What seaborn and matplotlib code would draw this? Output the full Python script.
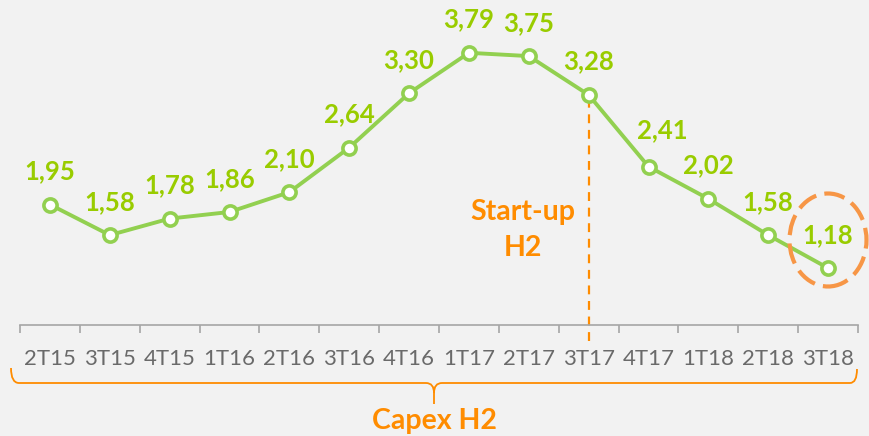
import matplotlib
matplotlib.use("Agg")
import matplotlib.pyplot as plt
import seaborn as sns
import numpy as np
import pandas as pd
from matplotlib.patches import Ellipse, PathPatch
from matplotlib.path import Path

quarters = ["2T15", "3T15", "4T15", "1T16", "2T16", "3T16", "4T16",
            "1T17", "2T17", "3T17", "4T17", "1T18", "2T18", "3T18"]
values = [1.95, 1.58, 1.78, 1.86, 2.10, 2.64, 3.30,
          3.79, 3.75, 3.28, 2.41, 2.02, 1.58, 1.18]
labels = ["1,95", "1,58", "1,78", "1,86", "2,10", "2,64", "3,30",
          "3,79", "3,75", "3,28", "2,41", "2,02", "1,58", "1,18"]
startup_idx = 9

BG = "#F2F2F2"
LINE = "#92D050"
LABEL = "#99CC00"
ORANGE = "#FF8C00"
CIRCLE = "#F79646"
AXIS = "#A6A6A6"
TICKTXT = "#6A6A6A"

sns.set_theme(style="white")
plt.rcParams["font.family"] = ["Lato", "DejaVu Sans"]

W, H = 869, 436
fig = plt.figure(figsize=(W / 100, H / 100), dpi=100, facecolor=BG)
ax = fig.add_axes([20 / W, 1 - 325 / H, 838 / W, 325 / H])
ax.set_facecolor(BG)

df = pd.DataFrame({"pos": np.arange(len(quarters)), "value": values})

# dashed start-up line
ax.plot([startup_idx, startup_idx], [0.3, values[startup_idx]],
        color=ORANGE, lw=1.6, ls=(0, (4, 3)), zorder=1, clip_on=False)

sns.lineplot(data=df, x="pos", y="value", ax=ax, color=LINE, linewidth=2.8,
             marker="o", markersize=9.5, markerfacecolor="white",
             markeredgecolor=LINE, markeredgewidth=2.6, zorder=3, clip_on=False)

for i, (v, lab) in enumerate(zip(values, labels)):
    dx, dy = (10, 26) if i == 10 else (0, 24)
    ax.annotate(lab, (i, v), xytext=(dx, dy), textcoords="offset points",
                ha="center", va="center", color=LABEL, fontsize=18.5,
                fontweight="bold")

ax.set_xlim(-0.5, len(quarters) - 0.5)
ax.set_ylim(0.49, 4.43)
ax.set_xlabel("")
ax.set_ylabel("")
ax.set_yticks([])
ax.set_xticks(np.arange(len(quarters)))
ax.set_xticklabels(quarters, fontsize=16, color=TICKTXT)
ax.set_xticks(np.arange(-0.5, len(quarters)), minor=True)
ax.tick_params(axis="x", which="major", length=0, pad=17)
ax.tick_params(axis="x", which="minor", length=6, width=1.2, color=AXIS,
               direction="out", bottom=True)
for s in ["top", "right", "left"]:
    ax.spines[s].set_visible(False)
ax.spines["bottom"].set_color(AXIS)
ax.spines["bottom"].set_linewidth(1.2)

# Start-up H2 text
fig.text(523 / W, 1 - 230 / H, "Start-up\nH2",
         ha="center", va="center", color=ORANGE, fontsize=20.5,
         fontweight="bold", linespacing=1.45)

# dashed circle around last point
ell = Ellipse((828 / W, 1 - 240 / H), 77 / W, 93 / H, transform=fig.transFigure,
              fill=False, edgecolor=CIRCLE, lw=3, ls=(0, (5, 2)))
fig.add_artist(ell)

# brace
def P(x, y):
    return (x / W, 1 - y / H)

verts = [P(11, 368), P(11, 383), P(19, 383),
         P(426, 383), P(434, 383), P(434, 393),
         P(434, 404),
         P(434, 393), P(434, 383), P(442, 383),
         P(850, 383), P(857, 383), P(857, 369)]
codes = [Path.MOVETO, Path.CURVE3, Path.CURVE3,
         Path.LINETO, Path.CURVE3, Path.CURVE3,
         Path.LINETO,
         Path.MOVETO, Path.CURVE3, Path.CURVE3,
         Path.LINETO, Path.CURVE3, Path.CURVE3]
brace = PathPatch(Path(verts, codes), transform=fig.transFigure, fill=False,
                  edgecolor=ORANGE, lw=1.3)
fig.add_artist(brace)

fig.text(434 / W, 1 - 421 / H, "Capex H2", ha="center", va="center",
         color=ORANGE, fontsize=20.5, fontweight="bold")

fig.savefig("out.png", dpi=100, facecolor=BG)
